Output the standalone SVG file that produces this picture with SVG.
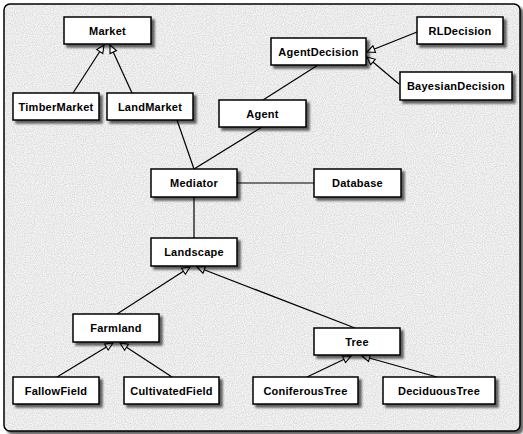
<svg xmlns="http://www.w3.org/2000/svg" width="523" height="434" viewBox="0 0 523 434">
<defs>
<style>
.box{fill:#ffffff;stroke:#000;stroke-width:1.5;filter:url(#sh)}
.lbl{font-family:"Liberation Sans",Arial,sans-serif;font-weight:bold;font-size:11px;letter-spacing:0.25px;text-anchor:middle;fill:#000}
.ln{stroke:#000;stroke-width:1.2;fill:none}
.gen{marker-end:url(#tri)}
</style>
<filter id="sh" x="-10%" y="-20%" width="130%" height="160%">
<feGaussianBlur in="SourceAlpha" stdDeviation="1.3"/>
<feOffset dx="3" dy="3" result="b"/>
<feComponentTransfer><feFuncA type="linear" slope="0.6"/></feComponentTransfer>
<feMerge><feMergeNode/><feMergeNode in="SourceGraphic"/></feMerge>
</filter>
<filter id="noise" x="0" y="0" width="100%" height="100%">
<feTurbulence type="fractalNoise" baseFrequency="0.9" numOctaves="1" seed="3"/>
<feColorMatrix type="matrix" values="0 0 0 0 0  0 0 0 0 0  0 0 0 0 0  0 0 0 -1.2 0.75"/>
<feComposite in2="SourceGraphic" operator="in"/>
</filter>
<marker id="tri" markerUnits="userSpaceOnUse" markerWidth="10" markerHeight="10" viewBox="-8 -4 9 8" refX="0" refY="0" orient="auto">
<path d="M0,0 L-7,-3.2 L-7,3.2 Z" fill="#fff" stroke="#000" stroke-width="1"/>
</marker>
</defs>
<rect x="0" y="0" width="523" height="434" fill="#ffffff"/>
<rect x="4" y="4" width="516" height="427" rx="6" fill="#f3f3f3" stroke="#000" stroke-width="1.5" filter="url(#sh)"/>
<rect x="5" y="5" width="514" height="425" rx="5" fill="#000" opacity="0.22" filter="url(#noise)"/>
<g id="connectors">
<line class="ln gen" x1="73" y1="93" x2="104" y2="45"/>
<line class="ln gen" x1="132" y1="93" x2="110" y2="45"/>
<line class="ln gen" x1="417" y1="32" x2="367" y2="52"/>
<line class="ln gen" x1="399" y1="84" x2="367" y2="57"/>
<line class="ln" x1="318" y1="65" x2="263" y2="100"/>
<line class="ln" x1="262" y1="127" x2="194" y2="169"/>
<line class="ln" x1="177" y1="120" x2="194" y2="169"/>
<line class="ln" x1="237" y1="183" x2="314" y2="183"/>
<line class="ln" x1="194" y1="197" x2="194" y2="238"/>
<line class="ln gen" x1="117" y1="314" x2="190" y2="267"/>
<line class="ln gen" x1="355" y1="328" x2="197" y2="267"/>
<line class="ln gen" x1="57" y1="377" x2="113" y2="343"/>
<line class="ln gen" x1="172" y1="377" x2="120" y2="343"/>
<line class="ln gen" x1="307" y1="377" x2="351" y2="356"/>
<line class="ln gen" x1="437" y1="377" x2="362" y2="356"/>
</g>
<g id="Market"><rect class="box" x="64" y="17" width="87" height="27"/><text class="lbl" x="107.5" y="34.5">Market</text></g>
<g id="TimberMarket"><rect class="box" x="13" y="93" width="86" height="27"/><text class="lbl" x="56" y="110.5">TimberMarket</text></g>
<g id="LandMarket"><rect class="box" x="107" y="93" width="86" height="27"/><text class="lbl" x="150" y="110.5">LandMarket</text></g>
<g id="AgentDecision"><rect class="box" x="271" y="38" width="95" height="27"/><text class="lbl" x="318.5" y="55.5">AgentDecision</text></g>
<g id="RLDecision"><rect class="box" x="417" y="17" width="86" height="27"/><text class="lbl" x="460" y="34.5">RLDecision</text></g>
<g id="BayesianDecision"><rect class="box" x="400" y="72" width="112" height="28"/><text class="lbl" x="456" y="90">BayesianDecision</text></g>
<g id="Agent"><rect class="box" x="219" y="100" width="87" height="27"/><text class="lbl" x="262.5" y="117.5">Agent</text></g>
<g id="Mediator"><rect class="box" x="151" y="169" width="86" height="28"/><text class="lbl" x="194" y="187">Mediator</text></g>
<g id="Database"><rect class="box" x="314" y="169" width="87" height="28"/><text class="lbl" x="357.5" y="187">Database</text></g>
<g id="Landscape"><rect class="box" x="151" y="238" width="86" height="28"/><text class="lbl" x="194" y="256">Landscape</text></g>
<g id="Farmland"><rect class="box" x="73" y="314" width="86" height="28"/><text class="lbl" x="116" y="332">Farmland</text></g>
<g id="Tree"><rect class="box" x="314" y="328" width="86" height="27"/><text class="lbl" x="357" y="345.5">Tree</text></g>
<g id="FallowField"><rect class="box" x="13" y="377" width="86" height="27"/><text class="lbl" x="56" y="394.5">FallowField</text></g>
<g id="CultivatedField"><rect class="box" x="124" y="377" width="95" height="27"/><text class="lbl" x="171.5" y="394.5">CultivatedField</text></g>
<g id="ConiferousTree"><rect class="box" x="253" y="377" width="105" height="27"/><text class="lbl" x="305.5" y="394.5">ConiferousTree</text></g>
<g id="DeciduousTree"><rect class="box" x="383" y="377" width="112" height="27"/><text class="lbl" x="439" y="394.5">DeciduousTree</text></g>
</svg>
